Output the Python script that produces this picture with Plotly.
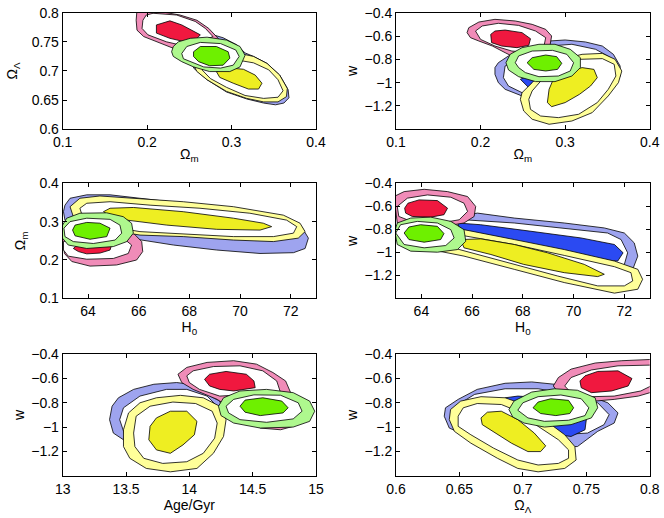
import plotly.graph_objects as go
from plotly.subplots import make_subplots

# ---- tick values / labels ----
om_ticks = [0.1, 0.2, 0.3, 0.4]
om_labels = ['0.1', '0.2', '0.3', '0.4']
ol_ticks = [0.6, 0.65, 0.7, 0.75, 0.8]
ol_labels = ['0.6', '0.65', '0.7', '0.75', '0.8']
w_ticks = [-1.2, -1.0, -0.8, -0.6, -0.4]
w_labels = ['\u22121.2', '\u22121', '\u22120.8', '\u22120.6', '\u22120.4']
h0_ticks = [64, 66, 68, 70, 72]
h0_labels = ['64', '66', '68', '70', '72']
om2_ticks = [0.1, 0.2, 0.3, 0.4]
om2_labels = ['0.1', '0.2', '0.3', '0.4']
age_ticks = [13, 13.5, 14, 14.5, 15]
age_labels = ['13', '13.5', '14', '14.5', '15']

# ---- contours: (x, y) vertices ----
# panel A: Omega_m vs Omega_Lambda
a_blue_o = [(0.276, 0.763), (0.290, 0.757), (0.306, 0.745), (0.316, 0.731), (0.326, 0.725), (0.342, 0.713),
            (0.357, 0.693), (0.367, 0.668), (0.368, 0.654), (0.362, 0.645), (0.352, 0.642), (0.338, 0.645),
            (0.318, 0.652), (0.294, 0.664), (0.271, 0.685), (0.255, 0.705), (0.255, 0.736), (0.265, 0.756)]
a_red_o = [(0.188, 0.805), (0.203, 0.805), (0.239, 0.796), (0.259, 0.787), (0.273, 0.773), (0.282, 0.759),
           (0.288, 0.750), (0.278, 0.736), (0.263, 0.730), (0.231, 0.739), (0.211, 0.750), (0.196, 0.759),
           (0.188, 0.770), (0.187, 0.787)]
a_red_m = [(0.207, 0.799), (0.235, 0.796), (0.257, 0.785), (0.269, 0.773), (0.278, 0.759), (0.247, 0.742),
           (0.223, 0.750), (0.201, 0.762), (0.194, 0.773), (0.195, 0.787), (0.199, 0.796)]
a_red_c = [(0.211, 0.779), (0.227, 0.786), (0.241, 0.779), (0.253, 0.770), (0.263, 0.762), (0.257, 0.753),
           (0.245, 0.750), (0.227, 0.756), (0.211, 0.765)]
a_yellow_o = [(0.310, 0.730), (0.326, 0.725), (0.342, 0.713), (0.357, 0.693), (0.366, 0.670), (0.365, 0.656),
              (0.355, 0.647), (0.338, 0.647), (0.318, 0.653), (0.294, 0.665), (0.271, 0.685), (0.259, 0.699),
              (0.255, 0.710), (0.271, 0.725), (0.290, 0.730)]
a_yellow_m = [(0.302, 0.720), (0.326, 0.714), (0.344, 0.702), (0.355, 0.685), (0.361, 0.666), (0.355, 0.655),
              (0.338, 0.653), (0.316, 0.658), (0.294, 0.672), (0.275, 0.687), (0.265, 0.702), (0.275, 0.713)]
a_yellow_c = [(0.298, 0.705), (0.314, 0.703), (0.328, 0.693), (0.336, 0.679), (0.332, 0.669), (0.320, 0.669),
              (0.302, 0.679), (0.286, 0.689), (0.282, 0.699)]
a_green_o = [(0.231, 0.742), (0.237, 0.750), (0.251, 0.756), (0.271, 0.758), (0.294, 0.753), (0.310, 0.742),
             (0.316, 0.727), (0.310, 0.707), (0.298, 0.699), (0.274, 0.699), (0.255, 0.707), (0.241, 0.716),
             (0.231, 0.725), (0.229, 0.733)]
a_green_m = [(0.241, 0.730), (0.247, 0.742), (0.263, 0.749), (0.287, 0.747), (0.305, 0.736), (0.309, 0.725),
             (0.302, 0.710), (0.287, 0.705), (0.267, 0.707), (0.251, 0.716), (0.243, 0.721)]
a_green_c = [(0.255, 0.733), (0.263, 0.742), (0.282, 0.742), (0.296, 0.733), (0.298, 0.722), (0.290, 0.710),
             (0.274, 0.709), (0.261, 0.716), (0.255, 0.725)]

# panel B: Omega_m vs w
b_blue_o = [(0.217, -0.871), (0.221, -0.829), (0.233, -0.771), (0.253, -0.700), (0.281, -0.643), (0.300, -0.634),
            (0.324, -0.651), (0.344, -0.686), (0.357, -0.757), (0.365, -0.857), (0.365, -0.943), (0.359, -1.029),
            (0.330, -1.100), (0.261, -1.143), (0.249, -1.114), (0.229, -1.057), (0.221, -1.000), (0.217, -0.929)]
b_blue_m = [(0.229, -0.857), (0.241, -0.814), (0.281, -0.686), (0.308, -0.671), (0.336, -0.714), (0.354, -0.786),
            (0.360, -0.871), (0.358, -0.971), (0.320, -1.050), (0.253, -1.100), (0.233, -1.029), (0.227, -0.957)]
b_blue_c = [(0.247, -0.971), (0.261, -0.929), (0.292, -0.914), (0.308, -0.971), (0.300, -1.057), (0.277, -1.071),
            (0.257, -1.043)]
b_red_o = [(0.186, -0.529), (0.198, -0.480), (0.217, -0.457), (0.241, -0.471), (0.261, -0.500), (0.277, -0.543),
           (0.284, -0.600), (0.282, -0.686), (0.273, -0.757), (0.241, -0.786), (0.229, -0.743), (0.214, -0.686),
           (0.198, -0.643), (0.188, -0.614), (0.184, -0.571)]
b_red_m = [(0.194, -0.557), (0.202, -0.514), (0.221, -0.491), (0.245, -0.509), (0.265, -0.557), (0.277, -0.614),
           (0.275, -0.686), (0.261, -0.743), (0.237, -0.729), (0.217, -0.686), (0.200, -0.629)]
b_red_c = [(0.212, -0.586), (0.217, -0.557), (0.229, -0.549), (0.249, -0.571), (0.259, -0.623), (0.257, -0.680),
           (0.243, -0.700), (0.225, -0.686), (0.213, -0.657)]
b_yellow_o = [(0.247, -1.143), (0.249, -1.086), (0.261, -1.000), (0.277, -0.871), (0.296, -0.800), (0.320, -0.757),
              (0.344, -0.749), (0.359, -0.800), (0.367, -0.900), (0.363, -1.000), (0.351, -1.114), (0.332, -1.257),
              (0.308, -1.329), (0.281, -1.357), (0.261, -1.314), (0.251, -1.243)]
b_yellow_m = [(0.257, -1.143), (0.261, -1.071), (0.273, -0.971), (0.293, -0.857), (0.317, -0.800), (0.344, -0.794),
              (0.358, -0.843), (0.360, -0.943), (0.351, -1.057), (0.338, -1.171), (0.316, -1.271), (0.292, -1.300),
              (0.271, -1.286), (0.259, -1.229)]
b_yellow_c = [(0.279, -1.171), (0.281, -1.057), (0.286, -0.971), (0.300, -0.914), (0.320, -0.871), (0.334, -0.886),
              (0.338, -0.957), (0.330, -1.029), (0.317, -1.100), (0.300, -1.171), (0.284, -1.206)]
b_green_o = [(0.230, -0.829), (0.235, -0.757), (0.249, -0.700), (0.269, -0.671), (0.288, -0.671), (0.306, -0.714),
             (0.318, -0.786), (0.318, -0.871), (0.308, -0.943), (0.288, -0.991), (0.265, -0.991), (0.245, -0.949),
             (0.233, -0.891)]
b_green_m = [(0.241, -0.829), (0.245, -0.771), (0.261, -0.729), (0.285, -0.723), (0.302, -0.757), (0.310, -0.829),
             (0.306, -0.900), (0.292, -0.943), (0.269, -0.949), (0.253, -0.914), (0.245, -0.871)]
b_green_c = [(0.255, -0.829), (0.261, -0.786), (0.277, -0.763), (0.290, -0.777), (0.296, -0.834), (0.291, -0.886),
             (0.277, -0.900), (0.263, -0.886)]

# panel C: H0 vs Omega_m
c_blue_o = [(63.09, 0.343), (63.29, 0.361), (63.95, 0.370), (64.87, 0.370), (66.05, 0.361), (67.76, 0.348),
            (69.74, 0.335), (71.71, 0.309), (72.43, 0.287), (72.70, 0.257), (72.57, 0.230), (72.11, 0.219),
            (70.79, 0.217), (69.08, 0.226), (67.37, 0.239), (66.05, 0.252), (64.87, 0.265), (63.82, 0.278),
            (63.09, 0.304), (63.03, 0.326)]
c_red_o = [(62.96, 0.270), (63.55, 0.278), (64.87, 0.278), (65.79, 0.270), (66.12, 0.248), (66.16, 0.222),
           (65.92, 0.200), (65.13, 0.187), (64.08, 0.184), (63.36, 0.196), (63.07, 0.217)]
c_red_m = [(63.03, 0.248), (63.95, 0.261), (65.39, 0.257), (65.72, 0.239), (65.59, 0.217), (65.00, 0.204),
           (63.95, 0.202), (63.22, 0.210), (63.03, 0.226)]
c_red_c = [(63.42, 0.230), (63.62, 0.222), (63.95, 0.216), (64.47, 0.218), (64.87, 0.226), (64.93, 0.239),
           (64.47, 0.248), (63.68, 0.245)]
c_yellow_o = [(63.29, 0.339), (63.68, 0.361), (64.47, 0.367), (65.79, 0.361), (67.76, 0.352), (69.74, 0.339),
              (71.71, 0.317), (72.37, 0.296), (72.57, 0.274), (72.30, 0.257), (71.32, 0.248), (69.74, 0.252),
              (67.76, 0.261), (66.05, 0.265), (64.87, 0.278), (63.95, 0.296), (63.42, 0.313)]
c_yellow_m = [(63.68, 0.335), (63.95, 0.348), (64.87, 0.352), (66.45, 0.343), (68.42, 0.335), (70.39, 0.322),
              (71.84, 0.304), (72.24, 0.287), (72.11, 0.270), (71.32, 0.261), (69.74, 0.261), (67.76, 0.268),
              (66.05, 0.274), (64.87, 0.287), (64.08, 0.304), (63.74, 0.322)]
c_yellow_c = [(64.61, 0.326), (64.87, 0.335), (65.79, 0.337), (67.76, 0.326), (69.74, 0.309), (70.92, 0.296),
              (71.25, 0.287), (70.79, 0.278), (69.08, 0.280), (67.11, 0.291), (65.53, 0.304), (64.87, 0.315)]
c_green_o = [(62.96, 0.287), (63.16, 0.309), (63.68, 0.322), (64.74, 0.323), (65.39, 0.313), (65.72, 0.296),
             (65.79, 0.270), (65.53, 0.248), (65.00, 0.235), (63.95, 0.230), (63.22, 0.239), (62.99, 0.257)]
c_green_m = [(63.05, 0.283), (63.29, 0.300), (63.95, 0.309), (64.87, 0.306), (65.26, 0.291), (65.33, 0.270),
             (65.07, 0.252), (64.21, 0.243), (63.42, 0.248), (63.09, 0.261)]
c_green_c = [(63.39, 0.278), (63.49, 0.291), (63.95, 0.298), (64.47, 0.296), (64.87, 0.283), (64.74, 0.261),
             (64.08, 0.254), (63.49, 0.263)]

# panel D: H0 vs w
d_blue_o = [(64.37, -0.688), (65.42, -0.688), (66.21, -0.659), (67.66, -0.702), (69.63, -0.745), (71.21, -0.788),
            (72.00, -0.832), (72.39, -0.918), (72.53, -1.033), (72.33, -1.148), (72.26, -1.163), (69.63, -1.033),
            (67.00, -0.976), (64.37, -0.990), (63.45, -0.947), (63.05, -0.860), (63.32, -0.745)]
d_blue_m = [(64.37, -0.745), (65.68, -0.717), (67.66, -0.745), (69.63, -0.789), (71.34, -0.832), (71.87, -0.889),
            (72.13, -1.004), (72.00, -1.105), (71.61, -1.148), (69.63, -1.076), (67.00, -1.004), (64.63, -0.961)]
d_blue_c = [(65.42, -0.745), (66.34, -0.760), (68.32, -0.817), (70.29, -0.875), (71.61, -0.932), (71.95, -1.004),
            (71.74, -1.076), (70.95, -1.062), (68.97, -0.990), (67.00, -0.932), (65.68, -0.889)]
d_red_o = [(62.92, -0.515), (63.32, -0.472), (64.11, -0.452), (65.03, -0.472), (65.82, -0.515), (66.14, -0.601),
           (66.08, -0.688), (65.68, -0.745), (64.89, -0.774), (63.84, -0.774), (63.05, -0.745)]
d_red_m = [(63.05, -0.601), (63.45, -0.529), (64.24, -0.501), (65.16, -0.521), (65.68, -0.573), (65.82, -0.645),
           (65.49, -0.717), (64.76, -0.745), (63.71, -0.740), (63.11, -0.688)]
d_red_c = [(63.34, -0.616), (63.47, -0.573), (63.91, -0.544), (64.63, -0.550), (65.03, -0.616), (64.89, -0.673),
           (64.37, -0.694), (63.64, -0.688), (63.38, -0.659)]
d_yellow_o = [(64.76, -0.789), (65.68, -0.803), (67.66, -0.889), (69.63, -0.976), (71.61, -1.076), (72.53, -1.148),
              (72.72, -1.235), (72.53, -1.321), (71.61, -1.355), (69.63, -1.263), (67.66, -1.148), (65.68, -1.033),
              (64.37, -0.976), (63.84, -0.947)]
d_yellow_m = [(65.42, -0.846), (67.66, -0.932), (69.63, -1.027), (71.61, -1.125), (72.26, -1.177), (72.33, -1.249),
              (72.00, -1.292), (70.95, -1.292), (69.37, -1.206), (67.66, -1.105), (65.68, -0.990), (64.76, -0.932)]
d_yellow_c = [(65.55, -0.889), (66.34, -0.883), (67.66, -0.932), (68.97, -1.004), (70.42, -1.105), (71.21, -1.191),
              (70.95, -1.211), (69.63, -1.177), (68.03, -1.105), (66.74, -1.019), (65.68, -0.961)]
d_green_o = [(62.95, -0.817), (63.05, -0.745), (63.58, -0.702), (64.37, -0.694), (65.16, -0.731), (65.68, -0.803),
             (65.75, -0.904), (65.42, -0.976), (64.63, -0.999), (63.58, -0.990), (63.05, -0.932)]
d_green_m = [(62.99, -0.832), (63.18, -0.760), (63.84, -0.731), (64.63, -0.745), (65.16, -0.803), (65.29, -0.875),
             (64.96, -0.941), (64.11, -0.961), (63.32, -0.932)]
d_green_c = [(63.32, -0.832), (63.51, -0.780), (63.97, -0.760), (64.63, -0.774), (64.89, -0.837), (64.76, -0.889),
             (64.11, -0.912), (63.51, -0.889)]

# panel E: Age vs w
e_blue_o = [(13.37, -0.938), (13.39, -0.828), (13.44, -0.759), (13.56, -0.690), (13.72, -0.648), (13.90, -0.634),
            (14.01, -0.648), (14.14, -0.731), (14.24, -0.786), (14.27, -0.883), (14.10, -1.050), (13.48, -1.103),
            (13.40, -1.048)]
e_blue_m = [(13.45, -0.938), (13.48, -0.841), (13.61, -0.745), (13.82, -0.690), (13.98, -0.690), (14.14, -0.745),
            (14.22, -0.828), (14.10, -1.000), (13.49, -1.062)]
e_red_o = [(13.91, -0.566), (13.98, -0.510), (14.14, -0.469), (14.35, -0.455), (14.53, -0.483), (14.66, -0.552),
           (14.76, -0.621), (14.80, -0.717), (14.82, -0.993), (14.72, -1.021), (14.56, -1.007), (14.22, -0.772),
           (14.03, -0.690), (13.94, -0.634)]
e_red_m = [(13.98, -0.579), (14.03, -0.538), (14.19, -0.503), (14.40, -0.497), (14.58, -0.538), (14.69, -0.621),
           (14.72, -0.717), (14.24, -0.745), (14.08, -0.690), (14.00, -0.634)]
e_red_c = [(14.12, -0.607), (14.16, -0.566), (14.29, -0.543), (14.45, -0.566), (14.51, -0.621), (14.52, -0.676),
           (14.35, -0.703), (14.24, -0.690), (14.16, -0.662)]
e_yellow_o = [(13.48, -1.021), (13.52, -0.883), (13.61, -0.800), (13.74, -0.759), (13.93, -0.739), (14.11, -0.759),
              (14.24, -0.828), (14.29, -0.938), (14.27, -1.076), (14.19, -1.214), (14.06, -1.338), (13.85, -1.366),
              (13.66, -1.338), (13.53, -1.255), (13.48, -1.159)]
e_yellow_m = [(13.56, -1.048), (13.58, -0.910), (13.69, -0.828), (13.87, -0.794), (14.05, -0.806), (14.18, -0.869),
              (14.22, -0.966), (14.20, -1.090), (14.11, -1.214), (13.98, -1.283), (13.79, -1.297), (13.64, -1.255),
              (13.57, -1.159)]
e_yellow_c = [(13.68, -1.103), (13.69, -0.993), (13.74, -0.924), (13.85, -0.869), (13.98, -0.869), (14.06, -0.952),
              (14.04, -1.062), (13.95, -1.145), (13.85, -1.214), (13.74, -1.186)]
e_green_o = [(14.23, -0.828), (14.27, -0.759), (14.40, -0.703), (14.61, -0.690), (14.82, -0.717), (14.95, -0.786),
             (14.99, -0.869), (14.95, -0.952), (14.82, -0.999), (14.56, -1.007), (14.35, -0.966), (14.25, -0.905)]
e_green_m = [(14.29, -0.828), (14.35, -0.772), (14.51, -0.735), (14.72, -0.738), (14.86, -0.800), (14.89, -0.869),
             (14.82, -0.932), (14.61, -0.960), (14.40, -0.938), (14.31, -0.883)]
e_green_c = [(14.40, -0.828), (14.44, -0.778), (14.58, -0.759), (14.73, -0.786), (14.78, -0.841), (14.74, -0.883),
             (14.56, -0.905), (14.44, -0.877)]

# panel F: Omega_Lambda vs w
f_blue_o = [(0.638, -0.910), (0.639, -0.841), (0.649, -0.772), (0.664, -0.690), (0.686, -0.640), (0.707, -0.629),
            (0.725, -0.648), (0.749, -0.731), (0.767, -0.800), (0.775, -0.883), (0.772, -0.966), (0.759, -1.034),
            (0.743, -1.159), (0.700, -1.150), (0.680, -1.076), (0.654, -1.062), (0.642, -1.007)]
f_blue_m = [(0.646, -0.883), (0.649, -0.814), (0.662, -0.731), (0.686, -0.685), (0.712, -0.685), (0.738, -0.731),
            (0.759, -0.800), (0.768, -0.897), (0.764, -0.979), (0.751, -1.048), (0.707, -1.076), (0.659, -1.034),
            (0.649, -0.979)]
f_blue_c = [(0.686, -0.759), (0.696, -0.745), (0.717, -0.759), (0.740, -0.850), (0.750, -0.938), (0.749, -1.021),
            (0.738, -1.076), (0.728, -1.062), (0.707, -0.993), (0.688, -0.869)]
f_red_o = [(0.724, -0.662), (0.728, -0.593), (0.738, -0.524), (0.757, -0.474), (0.778, -0.455), (0.809, -0.441),
           (0.809, -0.690), (0.791, -0.745), (0.772, -0.772), (0.757, -0.786), (0.738, -0.745), (0.728, -0.717)]
f_red_m = [(0.733, -0.662), (0.738, -0.593), (0.754, -0.531), (0.775, -0.497), (0.801, -0.491), (0.809, -0.500),
           (0.809, -0.621), (0.793, -0.703), (0.772, -0.745), (0.754, -0.750), (0.738, -0.717)]
f_red_c = [(0.745, -0.621), (0.749, -0.579), (0.759, -0.543), (0.775, -0.538), (0.786, -0.601), (0.783, -0.662),
           (0.770, -0.703), (0.754, -0.717), (0.746, -0.676)]
f_yellow_o = [(0.642, -0.938), (0.643, -0.855), (0.651, -0.786), (0.667, -0.750), (0.686, -0.759), (0.701, -0.814),
              (0.717, -0.938), (0.733, -1.062), (0.741, -1.159), (0.742, -1.269), (0.733, -1.338), (0.712, -1.366),
              (0.696, -1.338), (0.680, -1.255), (0.659, -1.131), (0.646, -1.034)]
f_yellow_m = [(0.649, -0.910), (0.653, -0.841), (0.664, -0.806), (0.683, -0.814), (0.696, -0.869), (0.712, -0.993),
              (0.728, -1.103), (0.736, -1.186), (0.736, -1.255), (0.728, -1.297), (0.712, -1.310), (0.696, -1.269),
              (0.677, -1.172), (0.659, -1.062), (0.649, -0.993)]
f_yellow_c = [(0.667, -0.924), (0.672, -0.877), (0.683, -0.869), (0.696, -0.938), (0.709, -1.048), (0.718, -1.153),
              (0.714, -1.200), (0.704, -1.200), (0.691, -1.131), (0.678, -1.048), (0.668, -0.979)]
f_green_o = [(0.689, -0.855), (0.693, -0.786), (0.707, -0.712), (0.725, -0.685), (0.743, -0.697), (0.757, -0.759),
             (0.759, -0.841), (0.754, -0.924), (0.738, -0.979), (0.717, -0.999), (0.701, -0.966), (0.692, -0.916)]
f_green_m = [(0.696, -0.861), (0.700, -0.800), (0.712, -0.750), (0.730, -0.736), (0.746, -0.767), (0.752, -0.841),
             (0.749, -0.905), (0.736, -0.943), (0.717, -0.952), (0.704, -0.924)]
f_green_c = [(0.708, -0.841), (0.712, -0.794), (0.722, -0.767), (0.736, -0.780), (0.740, -0.841), (0.737, -0.888),
             (0.726, -0.905), (0.714, -0.888)]

# colours for the three levels: outer ring, middle (white), core
BLUE = ['#9ea4ef', '#ffffff', '#2b4af2']
RED = ['#f08cb8', '#ffffff', '#f0183f']
YELLOW = ['#ffff99', '#ffffff', '#eeee22']
GREEN = ['#aef88e', '#ffffff', '#6ef000']

# draw order inside each panel: blue, red, yellow, green
panels = [
    (1, 1, [(BLUE, [a_blue_o]), (RED, [a_red_o, a_red_m, a_red_c]),
            (YELLOW, [a_yellow_o, a_yellow_m, a_yellow_c]), (GREEN, [a_green_o, a_green_m, a_green_c])]),
    (1, 2, [(BLUE, [b_blue_o, b_blue_m, b_blue_c]), (RED, [b_red_o, b_red_m, b_red_c]),
            (YELLOW, [b_yellow_o, b_yellow_m, b_yellow_c]), (GREEN, [b_green_o, b_green_m, b_green_c])]),
    (2, 1, [(BLUE, [c_blue_o]), (RED, [c_red_o, c_red_m, c_red_c]),
            (YELLOW, [c_yellow_o, c_yellow_m, c_yellow_c]), (GREEN, [c_green_o, c_green_m, c_green_c])]),
    (2, 2, [(BLUE, [d_blue_o, d_blue_m, d_blue_c]), (RED, [d_red_o, d_red_m, d_red_c]),
            (YELLOW, [d_yellow_o, d_yellow_m, d_yellow_c]), (GREEN, [d_green_o, d_green_m, d_green_c])]),
    (3, 1, [(BLUE, [e_blue_o, e_blue_m]), (RED, [e_red_o, e_red_m, e_red_c]),
            (YELLOW, [e_yellow_o, e_yellow_m, e_yellow_c]), (GREEN, [e_green_o, e_green_m, e_green_c])]),
    (3, 2, [(BLUE, [f_blue_o, f_blue_m, f_blue_c]), (RED, [f_red_o, f_red_m, f_red_c]),
            (YELLOW, [f_yellow_o, f_yellow_m, f_yellow_c]), (GREEN, [f_green_o, f_green_m, f_green_c])]),
]

fig = make_subplots(rows=3, cols=2)

for row, col, sets in panels:
    for colours, levels in sets:
        for i, pts in enumerate(levels):
            xs = [p[0] for p in pts] + [pts[0][0]]
            ys = [p[1] for p in pts] + [pts[0][1]]
            fig.add_trace(go.Scatter(x=xs, y=ys, mode='lines', fill='toself',
                                     fillcolor=colours[i], line=dict(color='black', width=0.8),
                                     hoverinfo='skip', showlegend=False), row=row, col=col)

##LAYOUT
FONT = 'Liberation Sans, Arial, sans-serif'
fig.update_layout(width=664, height=518, autosize=False,
                  margin=dict(l=0, r=0, t=0, b=0),
                  paper_bgcolor='white', plot_bgcolor='white',
                  font=dict(family=FONT, size=14, color='black'),
                  showlegend=False)

# axes boxes, ticks inside on all four sides
fig.update_xaxes(showline=True, linewidth=1, linecolor='black', mirror='ticks', ticks='inside',
                 ticklen=4, tickcolor='black', showgrid=False, zeroline=False, automargin=False,
                 tickfont=dict(size=14), title_font=dict(size=14), title_standoff=0)
fig.update_yaxes(showline=True, linewidth=1, linecolor='black', mirror='ticks', ticks='inside',
                 ticklen=4, tickcolor='black', showgrid=False, zeroline=False, automargin=False,
                 tickfont=dict(size=14), title_font=dict(size=14))

xl = [0.0944, 0.4759]
xr = [0.5964, 0.9785]
rows_y = [[0.7504, 0.9755], [0.4241, 0.6461], [0.0811, 0.3166]]

axes = [
    (1, 1, xl, rows_y[0], [0.1, 0.4], om_ticks, om_labels, '\u03a9<sub>m</sub>',
     [0.6, 0.8], ol_ticks, ol_labels, '\u03a9<sub>\u039b</sub>'),
    (1, 2, xr, rows_y[0], [0.1, 0.4], om_ticks, om_labels, '\u03a9<sub>m</sub>',
     [-1.4, -0.4], w_ticks, w_labels, 'w'),
    (2, 1, xl, rows_y[1], [63, 73], h0_ticks, h0_labels, 'H<sub>0</sub>',
     [0.1, 0.4], om2_ticks, om2_labels, '\u03a9<sub>m</sub>'),
    (2, 2, xr, rows_y[1], [63, 73], h0_ticks, h0_labels, 'H<sub>0</sub>',
     [-1.4, -0.4], w_ticks, w_labels, 'w'),
    (3, 1, xl, rows_y[2], [13, 15], age_ticks, age_labels, 'Age/Gyr',
     [-1.4, -0.4], w_ticks, w_labels, 'w'),
    (3, 2, xr, rows_y[2], [0.6, 0.8], [0.6, 0.65, 0.7, 0.75, 0.8], ['0.6', '0.65', '0.7', '0.75', '0.8'],
     '\u03a9<sub>\u039b</sub>', [-1.4, -0.4], w_ticks, w_labels, 'w'),
]
for row, col, xd, yd, xr_, xt, xtl, xtitle, yr_, yt, ytl, ytitle in axes:
    fig.update_xaxes(domain=xd, range=xr_, tickmode='array', tickvals=xt, ticktext=xtl,
                     title_text=xtitle, row=row, col=col)
    fig.update_yaxes(domain=yd, range=yr_, tickmode='array', tickvals=yt, ticktext=ytl,
                     title_text=ytitle, title_standoff=(3 if ytitle == 'w' else 10),
                     row=row, col=col)

# the page body has a default 8px margin; remove it so the figure fills the window
fig.write_html("out.html", config={'displayModeBar': False},
               post_script="document.body.style.margin='0';")
